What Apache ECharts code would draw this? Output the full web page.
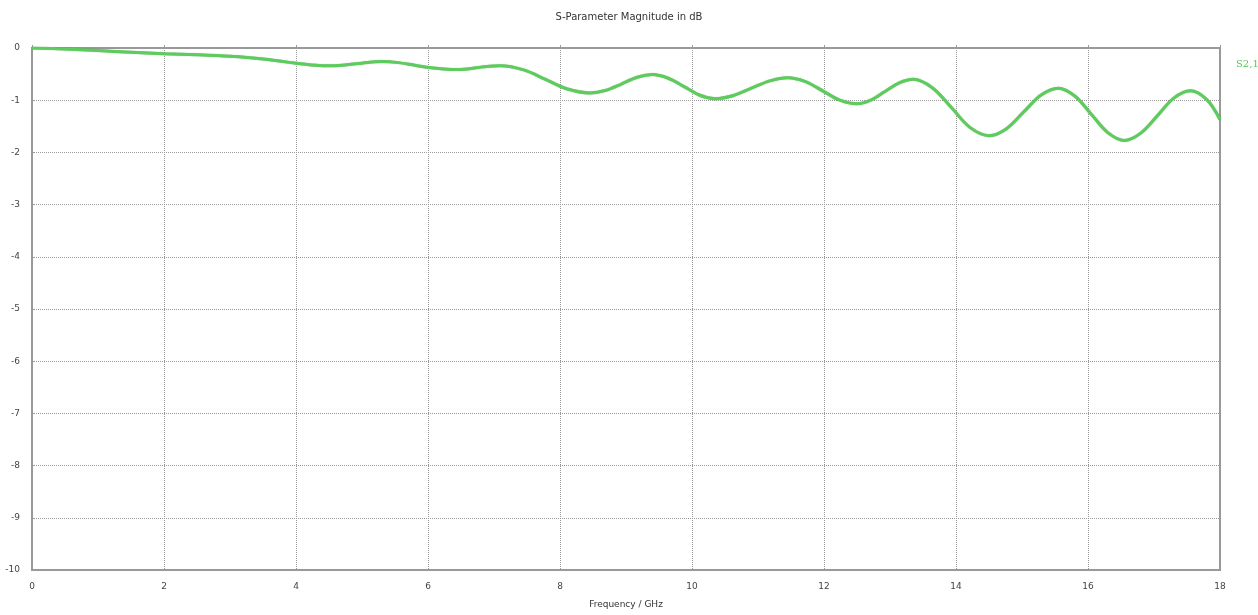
<!DOCTYPE html>
<html>
<head>
<meta charset="utf-8">
<script src="https://cdn.jsdelivr.net/npm/echarts@6/dist/echarts.min.js"></script>
<style>
html,body{margin:0;padding:0;background:#fff;}
#chart{width:1258px;height:615px;}
</style>
</head>
<body>
<div id="chart"></div>
<script>
var chartTitle = 'S-Parameter Magnitude in dB';
var xAxisName = 'Frequency / GHz';
var seriesName = 'S2,1';
var freqGHz = [0, 0.5, 1, 1.5, 2, 2.5, 3, 3.5, 3.8, 4, 4.2, 4.45, 4.7, 5, 5.3, 5.55, 5.8, 6.05, 6.35, 6.6, 6.85, 7.1,
  7.45, 7.78, 8.1, 8.45, 8.7, 8.93, 9.17, 9.4, 9.64, 9.88, 10.11, 10.35, 10.63, 10.9, 11.18, 11.45,
  11.71, 11.98, 12.24, 12.5, 12.71, 12.93, 13.14, 13.35, 13.64, 13.93, 14.21, 14.5, 14.76, 15.03, 15.29, 15.55,
  15.8, 16.05, 16.3, 16.55, 16.8, 17.05, 17.3, 17.55, 17.8, 18];
var s21dB = [0, -0.02, -0.05, -0.08, -0.11, -0.13, -0.16, -0.21, -0.26, -0.29, -0.32, -0.34, -0.33, -0.29, -0.26, -0.28, -0.33, -0.38, -0.41, -0.40, -0.36, -0.34,
  -0.42, -0.60, -0.78, -0.86, -0.81, -0.69, -0.56, -0.51, -0.58, -0.74, -0.90, -0.97, -0.91, -0.77, -0.63, -0.57,
  -0.64, -0.82, -1.00, -1.07, -1.00, -0.83, -0.67, -0.60, -0.76, -1.14, -1.52, -1.68, -1.55, -1.22, -0.90, -0.77,
  -0.92, -1.27, -1.62, -1.77, -1.63, -1.30, -0.96, -0.82, -0.99, -1.37];
var xTicks = [0, 2, 4, 6, 8, 10, 12, 14, 16, 18];
var yTicks = [0, -1, -2, -3, -4, -5, -6, -7, -8, -9, -10];

var points = freqGHz.map(function (f, i) { return [f, s21dB[i]]; });

var chart = echarts.init(document.getElementById('chart'));
chart.setOption({
  backgroundColor: '#ffffff',
  animation: false,
  title: [
    { text: chartTitle, left: 'center', top: 7,
      textStyle: { fontSize: 10, fontWeight: 'normal', color: '#333', fontFamily: 'DejaVu Sans' } },
    { text: seriesName, left: 1231, top: 54,
      textStyle: { fontSize: 10, fontWeight: 'normal', color: '#55c855', fontFamily: 'DejaVu Serif' } }
  ],
  grid: { left: 32, right: 38, top: 48, bottom: 45, show: true, borderColor: '#999', borderWidth: 2 },
  xAxis: {
    type: 'value', min: 0, max: 18, interval: 2,
    name: xAxisName, nameLocation: 'middle', nameGap: 30,
    nameTextStyle: { fontSize: 9, color: '#333', fontFamily: 'DejaVu Sans' },
    axisLine: { show: true, lineStyle: { color: '#999', width: 2 } },
    axisTick: { show: true, length: 3, inside: true, lineStyle: { color: '#999' } },
    axisLabel: { fontSize: 9, color: '#444', margin: 12, fontFamily: 'DejaVu Sans',
      formatter: function (v) { return xTicks.indexOf(v) >= 0 ? String(v) : ''; } },
    splitLine: { show: true, lineStyle: { color: '#999', type: 'dotted', width: 1 } }
  },
  yAxis: {
    type: 'value', min: -10, max: 0, interval: 1,
    axisLine: { show: true, lineStyle: { color: '#999', width: 2 } },
    axisTick: { show: true, length: 3, inside: true, lineStyle: { color: '#999' } },
    axisLabel: { fontSize: 9, color: '#444', margin: 12, fontFamily: 'DejaVu Sans',
      formatter: function (v) { return yTicks.indexOf(v) >= 0 ? String(v) : ''; } },
    splitLine: { show: true, lineStyle: { color: '#999', type: 'dotted', width: 1 } }
  },
  series: [{
    name: seriesName,
    type: 'line',
    data: points,
    smooth: 0.35,
    showSymbol: false,
    lineStyle: { color: '#5ccc5c', width: 3, shadowColor: 'rgba(40,120,40,0.5)', shadowBlur: 1 }
  }]
});
</script>
</body>
</html>
